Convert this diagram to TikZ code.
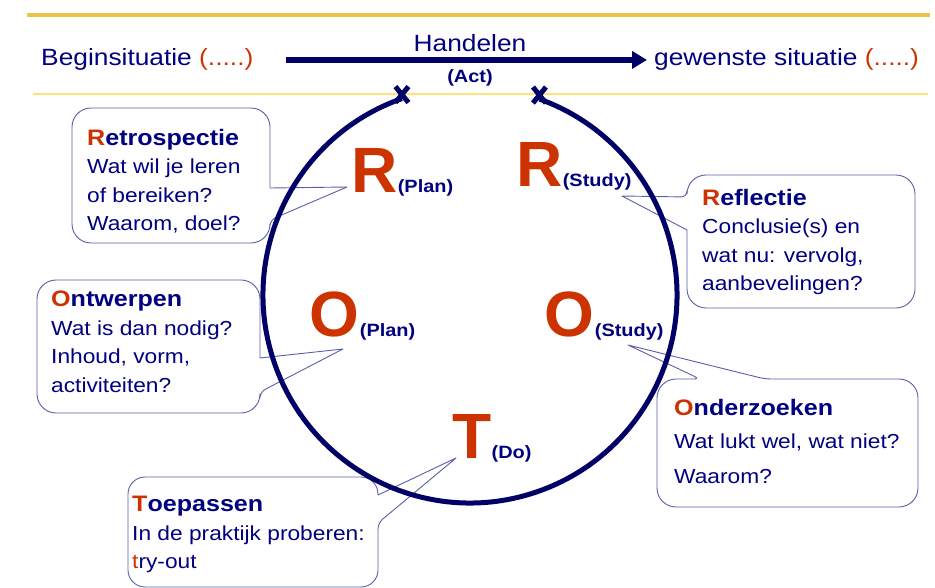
\documentclass[tikz,border=0pt]{standalone}
\usepackage{fontspec}
\setmainfont{Liberation Sans}[FakeStretch=1.12]
\newfontfamily\lettfont{Liberation Sans}
\usepackage{xcolor}
\usepackage{tikz}
\usetikzlibrary{calc,arrows.meta,positioning}
\definecolor{navyc}{HTML}{000080}
\definecolor{ringc}{HTML}{000066}
\definecolor{redc}{HTML}{CC3300}
\definecolor{bubc}{HTML}{5B5EA6}
\definecolor{goldc}{HTML}{E8C547}
\definecolor{paleg}{HTML}{FFE27A}
\tikzset{
  ring/.style={ringc,line width=5pt},
  xmark/.style={ringc,line width=5pt},
  actarrow/.style={-{Triangle[length=15pt,width=17pt]},line width=6.5pt,ringc},
  bubble/.style={draw=bubc,line width=0.9pt,fill=white,line join=round},
  bubtxt/.style={navyc,anchor=north west,inner sep=0pt,align=left,font=\fontsize{20.3}{28.5}\selectfont},
  letter/.style={redc,anchor=base west,inner sep=0pt,font=\lettfont\bfseries\fontsize{64}{64}\selectfont},
  sublab/.style={navyc,anchor=base west,inner sep=0pt,font=\bfseries\fontsize{17.8}{17.8}\selectfont},
  toptxt/.style={navyc,inner sep=0pt,font=\fontsize{23.5}{23.5}\selectfont}
}
\newcommand{\bubtitle}[1]{{\fontsize{22.4}{28.5}\selectfont\bfseries #1}}

\begin{document}
\begin{tikzpicture}[x=1pt,y=-1pt]
\useasboundingbox (0,0) rectangle (935,588);
\draw[goldc,line width=4pt] (27,15) -- (930,15);
\draw[paleg,line width=2pt] (33,94) -- (928,94);

% top row
\node[toptxt,anchor=base west] (begin) at (41,66) {Beginsituatie \textcolor{redc}{(.....)}};
\node[toptxt,anchor=base west] (goal) at (654,66) {gewenste situatie \textcolor{redc}{(.....)}};
\draw[actarrow] ([xshift=32pt]begin.east) -- ([xshift=-7pt]goal.west);
\node[toptxt,anchor=base] (handel) at (470,52) {Handelen};
\node[sublab,anchor=base] (act) at (470,83) {(Act)};

% pointer tips
\coordinate (tipRP) at (347,187);
\coordinate (tipRS) at (622,196);
\coordinate (tipOP) at (343,349);
\coordinate (tipOS) at (628,345);
\coordinate (tipTD) at (456,458);

% bubbles
\draw[bubble] (171,108) [rounded corners=19pt] -- (270,108) [sharp corners] -- (270,188) -- (tipRP) [rounded corners=6pt] -- (270,220) [rounded corners=19pt] -- (270,243) -- (72,243) -- (72,108) -- cycle;
\draw[bubble] (800,308) [rounded corners=19pt] -- (687,308) [sharp corners] -- (687,230) -- (tipRS) [rounded corners=6pt] -- (687,197) [rounded corners=19pt] -- (687,175) -- (915,175) -- (915,308) -- cycle;
\draw[bubble] (150,280) [rounded corners=19pt] -- (260,280) [sharp corners] -- (260,358) -- (tipOP) [rounded corners=6pt] -- (260,392) [rounded corners=19pt] -- (260,413) -- (37,413) -- (37,280) -- cycle;
\draw[bubble] (657,440) [rounded corners=19pt] -- (657,379) [rounded corners=6pt] -- (700,379) [sharp corners] -- (tipOS) [rounded corners=6pt] -- (765,379) [rounded corners=19pt] -- (918,379) -- (918,507) -- (657,507) -- cycle;
\draw[bubble] (250,477) [rounded corners=17pt] -- (378,477) [sharp corners] -- (378,495) -- (tipTD) [rounded corners=6pt] -- (378,523) [rounded corners=17pt] -- (378,587) -- (128,587) -- (128,477) -- cycle;

\node[bubtxt] (retro) at (87,129) {\bubtitle{\textcolor{redc}{R}etrospectie}\\Wat wil je leren\\of bereiken?\\Waarom, doel?};
\node[bubtxt] (refl) at (702,189) {\bubtitle{\textcolor{redc}{R}eflectie}\\Conclusie(s) en\\wat nu: vervolg,\\aanbevelingen?};
\node[bubtxt] (ontw) at (51,291) {\bubtitle{\textcolor{redc}{O}ntwerpen}\\Wat is dan nodig?\\Inhoud, vorm,\\activiteiten?};
\node[bubtxt] (onderz) at (674,399) {\bubtitle{\textcolor{redc}{O}nderzoeken}\\[5pt]Wat lukt wel, wat niet?\\[6.5pt]Waarom?};
\node[bubtxt] (toep) at (132,496) {\bubtitle{\textcolor{redc}{T}oepassen}\\In de praktijk proberen:\\\textcolor{redc}{t}ry-out};

% cycle
\coordinate (ctr) at (470,295);
\draw[ring] ($(ctr)+(250.8:207 and 208)$) coordinate (ringL) arc[start angle=250.8,end angle=-70.4,x radius=207,y radius=208] coordinate (ringR);
\foreach \p in {ringL,ringR}
  \draw[xmark] ($(\p)+(0,-4)$) ++(-6.5,-8) -- ++(13,16) ++(0,-16) -- ++(-13,16);

\node[letter] (rplan) at (351,193) {R};
\node[sublab] (rplanx) at (rplan.base east) {(Plan)};
\node[letter] (rstudy) at (516,187) {R};
\node[sublab] (rstudyx) at (rstudy.base east) {(Study)};
\node[letter] (oplan) at (309.5,337) {O};
\node[sublab] (oplanx) at (oplan.base east) {(Plan)};
\node[letter] (ostudy) at (544.5,337) {O};
\node[sublab] (ostudyx) at (ostudy.base east) {(Study)};
\node[letter] (tdo) at (452,458) {T};
\node[sublab] (tdox) at (tdo.base east) {(Do)};
\end{tikzpicture}
\end{document}
